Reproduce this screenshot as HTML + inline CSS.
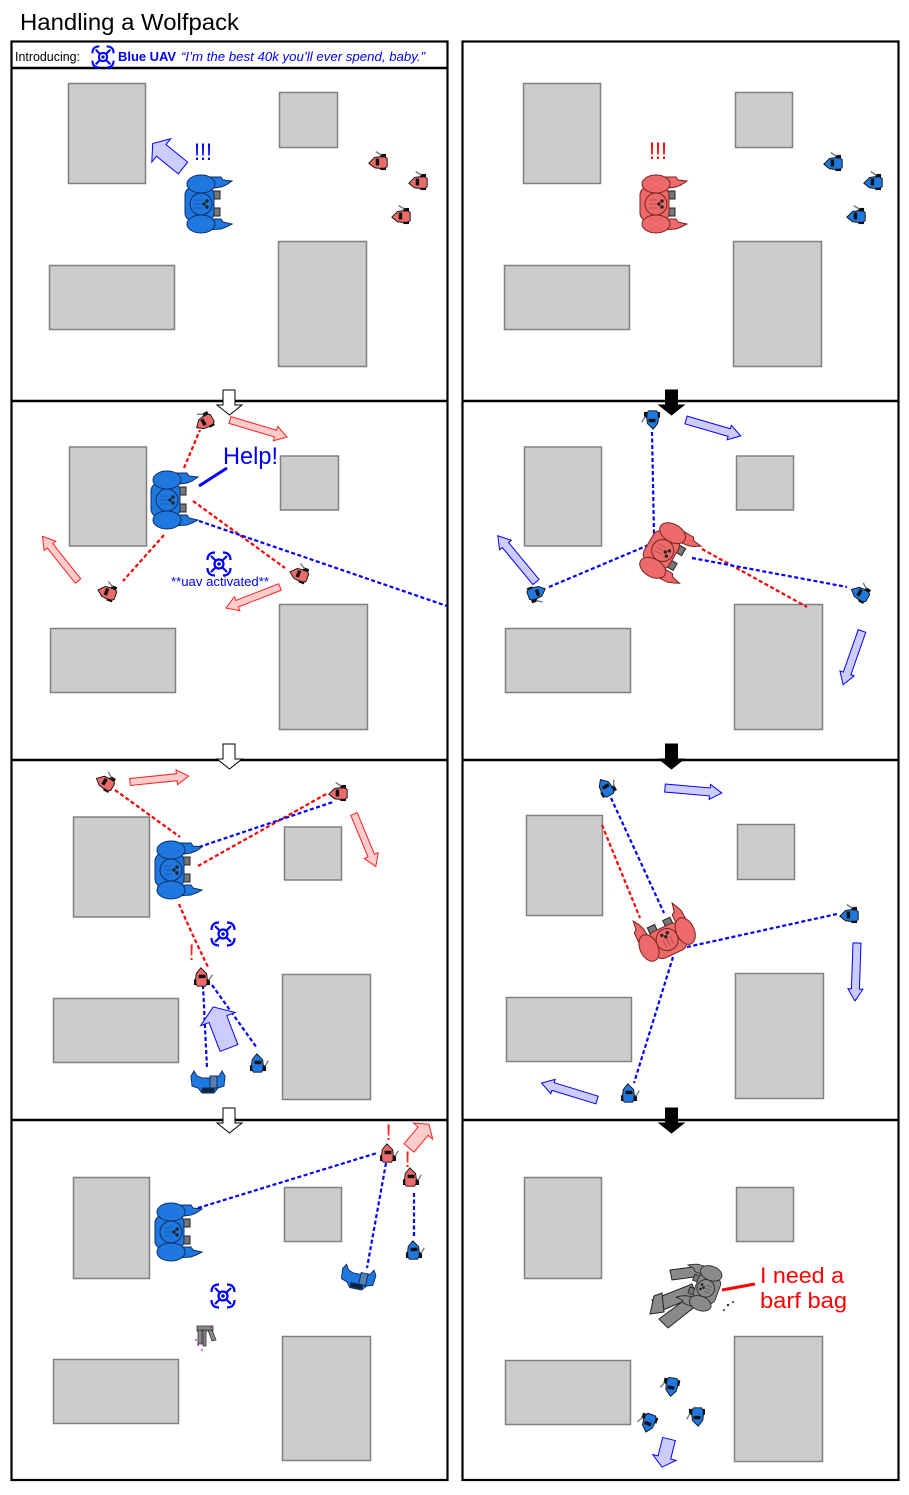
<!DOCTYPE html>
<html><head><meta charset="utf-8"><style>
html,body{margin:0;padding:0;background:#fff;}
svg{display:block;}
text{font-family:"Liberation Sans",Arial,sans-serif;}
</style></head><body>
<svg width="909" height="1495" viewBox="0 0 909 1495" xmlns="http://www.w3.org/2000/svg" xmlns:xlink="http://www.w3.org/1999/xlink">
<defs>
  <g id="uav" fill="none" stroke="#0000ff" stroke-width="2.2">
    <line x1="-8" y1="-8" x2="8" y2="8"/>
    <line x1="-8" y1="8" x2="8" y2="-8"/>
    <circle r="4.5" fill="#fff"/>
    <circle r="1.8" fill="#0000ff" stroke="none"/>
    <path d="M4,-11.5 Q11.5,-11.5 11.5,-4"/>
    <path d="M-4,-11.5 Q-11.5,-11.5 -11.5,-4"/>
    <path d="M4,11.5 Q11.5,11.5 11.5,4"/>
    <path d="M-4,11.5 Q-11.5,11.5 -11.5,4"/>
  </g>
  <g id="mech" stroke-width="1">
    <path d="M0,-27 L15,-27 L17,-24 L26,-23 L20,-19 L15,-17 L0,-15 Z"/>
    <path d="M0,15 L15,15 L17,18 L26,20 L20,23 L15,25 L0,26 Z"/>
    <rect x="5" y="-13" width="9" height="8" fill="#777" stroke="#222"/>
    <rect x="5" y="4" width="9" height="8" fill="#777" stroke="#222"/>
    <rect x="-21" y="-17" width="29" height="34" rx="8"/>
    <ellipse cx="-5" cy="-20" rx="14" ry="9"/>
    <ellipse cx="-5" cy="20" rx="14" ry="9"/>
    <circle cx="-5" cy="0" r="11"/>
    <path d="M-12,-4 L-4,-4 M-12,0 L-4,0 M-12,4 L-4,4" stroke-opacity="0.4" fill="none"/>
    <circle cx="1" cy="-3" r="1.7" fill="#222" stroke="none"/>
    <circle cx="1" cy="3" r="1.7" fill="#222" stroke="none"/>
    <circle cx="-2" cy="0" r="1.7" fill="#222" stroke="none"/>
  </g>
  <g id="unit" stroke="#111" stroke-width="0.8">
    <path d="M-8,1 L-3,-4 L5,-5 L8,-3 L8,4 L5,6 L-3,5 Z"/>
    <rect x="-2" y="-3" width="3" height="6" fill="#111" stroke="none"/>
    <rect x="2" y="-7" width="5" height="3" fill="#111" stroke="none"/>
    <rect x="2" y="5" width="5" height="2" fill="#111" stroke="none"/>
    <path d="M-2,-9 L3,-6" stroke="#777" fill="none" stroke-width="1.2"/>
  </g>
  <g id="unit2" stroke="#0d2f66" stroke-width="1">
    <path d="M-17,-6 L-14,-11 L-11,-6 L-6,-4 L6,-4 L11,-6 L14,-11 L17,-6 L16,4 L10,6 L6,11 L-6,11 L-10,6 L-16,4 Z"/>
    <rect x="2" y="-6" width="7" height="12" fill="#5a7fb0"/>
    <rect x="-6" y="6" width="12" height="4" fill="#123"/>
  </g>
</defs>

<!-- Title -->
<text x="20" y="30" font-size="23" textLength="219" lengthAdjust="spacingAndGlyphs">Handling a Wolfpack</text>

<!-- Frames -->
<g fill="#fff" stroke="#000" stroke-width="2.2">
  <rect x="11.5" y="41.5" width="436" height="1438.5"/>
  <rect x="462.5" y="41.5" width="436" height="1438.5"/>
</g>
<g stroke="#000" stroke-width="2.5">
  <line x1="11" y1="68" x2="448" y2="68"/>
  <line x1="11" y1="401" x2="448" y2="401"/>
  <line x1="11" y1="760" x2="448" y2="760"/>
  <line x1="11" y1="1120" x2="448" y2="1120"/>
  <line x1="462" y1="401" x2="899" y2="401"/>
  <line x1="462" y1="760" x2="899" y2="760"/>
  <line x1="462" y1="1120" x2="899" y2="1120"/>
</g>

<!-- Header -->
<text x="15" y="61" font-size="13" textLength="65" lengthAdjust="spacingAndGlyphs">Introducing:</text>
<use xlink:href="#uav" href="#uav" transform="translate(103,57) scale(0.92)"/>
<text x="118" y="61" font-size="13" font-weight="bold" fill="#0000ff" textLength="58" lengthAdjust="spacingAndGlyphs">Blue UAV</text>
<text x="181" y="61" font-size="13" font-style="italic" fill="#0000ff" textLength="244" lengthAdjust="spacingAndGlyphs">“I’m the best 40k you’ll ever spend, baby.”</text>

<!-- Buildings -->
<g fill="#cccccc" stroke="#808080" stroke-width="1.5">
  <rect x="68.5" y="83.5" width="77" height="100"/>
  <rect x="279.5" y="92.5" width="58" height="55"/>
  <rect x="49.5" y="265.5" width="125" height="64"/>
  <rect x="278.5" y="241.5" width="88" height="125"/>

  <rect x="69.5" y="447" width="77" height="99"/>
  <rect x="280.5" y="456" width="58" height="54"/>
  <rect x="50.5" y="628.5" width="125" height="64"/>
  <rect x="279.5" y="604.5" width="88" height="125"/>

  <rect x="73.5" y="817" width="76" height="100"/>
  <rect x="284.5" y="827" width="57" height="53"/>
  <rect x="53.5" y="998.5" width="125" height="64"/>
  <rect x="282.5" y="974.5" width="88" height="125"/>

  <rect x="73.5" y="1177.5" width="76" height="101"/>
  <rect x="284.5" y="1187.5" width="57" height="54"/>
  <rect x="53.5" y="1359.5" width="125" height="64"/>
  <rect x="282.5" y="1336.5" width="88" height="124"/>

  <rect x="523.5" y="83.5" width="77" height="100"/>
  <rect x="735.5" y="92.5" width="57" height="55"/>
  <rect x="504.5" y="265.5" width="125" height="64"/>
  <rect x="733.5" y="241.5" width="88" height="125"/>

  <rect x="524.5" y="447" width="77" height="99"/>
  <rect x="736.5" y="456" width="57" height="54"/>
  <rect x="505.5" y="628.5" width="125" height="64"/>
  <rect x="734.5" y="604.5" width="88" height="125"/>

  <rect x="526.5" y="815.5" width="76" height="100"/>
  <rect x="737.5" y="824.5" width="57" height="55"/>
  <rect x="506.5" y="997.5" width="125" height="64"/>
  <rect x="735.5" y="973.5" width="88" height="125"/>

  <rect x="524.5" y="1177.5" width="77" height="101"/>
  <rect x="736.5" y="1187.5" width="57" height="54"/>
  <rect x="505.5" y="1360.5" width="125" height="64"/>
  <rect x="734.5" y="1336.5" width="88" height="125"/>
</g>

<!-- Panel connector arrows -->
<g fill="#fff" stroke="#000" stroke-width="1">
  <polygon points="223,390 235,390 235,405 242,405 229.5,415 217,405 223,405"/>
  <polygon points="223,744 235,744 235,759 242,759 229.5,769 217,759 223,759"/>
  <polygon points="223,1108 235,1108 235,1123 242,1123 229.5,1133 217,1123 223,1123"/>
</g>
<g fill="#000" stroke="#000" stroke-width="1">
  <polygon points="665.5,390 677.5,390 677.5,405 684,405 671.5,415 659,405 665.5,405"/>
  <polygon points="665.5,744 677.5,744 677.5,759 684,759 671.5,769 659,759 665.5,759"/>
  <polygon points="665.5,1108 677.5,1108 677.5,1123 684,1123 671.5,1133 659,1123 665.5,1123"/>
</g>

<!-- Dotted lines -->
<g fill="none" stroke="#ff0000" stroke-width="2.2" stroke-dasharray="4 2.5">
  <line x1="184" y1="468" x2="200" y2="430"/>
  <line x1="164" y1="535" x2="123" y2="581"/>
  <line x1="193" y1="501" x2="285" y2="568"/>
  <line x1="702" y1="549" x2="807" y2="607"/>
  <line x1="115" y1="790" x2="180" y2="837"/>
  <line x1="198" y1="866" x2="328" y2="793"/>
  <path d="M179,904 Q190,930 208,967"/>
  <line x1="602" y1="825" x2="640" y2="918"/>
</g>
<g fill="none" stroke="#0000ff" stroke-width="2.2" stroke-dasharray="4 2.5">
  <line x1="199" y1="521" x2="447" y2="606"/>
  <line x1="652" y1="432" x2="654" y2="535"/>
  <line x1="549" y1="587" x2="651" y2="544"/>
  <line x1="692" y1="558" x2="847" y2="587"/>
  <line x1="199" y1="847" x2="333" y2="802"/>
  <line x1="203" y1="985" x2="207" y2="1068"/>
  <line x1="212" y1="985" x2="257" y2="1048"/>
  <line x1="611" y1="798" x2="664" y2="913"/>
  <line x1="687" y1="947" x2="837" y2="914"/>
  <line x1="673" y1="957" x2="634" y2="1083"/>
  <line x1="198" y1="1208" x2="377" y2="1153"/>
  <line x1="386" y1="1163" x2="367" y2="1268"/>
  <line x1="414" y1="1193" x2="414" y2="1236"/>
</g>
<line x1="199" y1="486" x2="227" y2="468" stroke="#0000ff" stroke-width="3"/>
<line x1="722" y1="1290" x2="755" y2="1284" stroke="#ff0000" stroke-width="3"/>

<!-- Pink arrows -->
<g fill="#ffcccc" stroke="#ff2020" stroke-width="1">
  <polygon transform="translate(230,420) rotate(16.6)" points="0,-3.5 47.5,-3.5 47.5,-7.5 59.5,0 47.5,7.5 47.5,3.5 0,3.5"/>
  <polygon transform="translate(78,581) rotate(-128.5)" points="0,-3.5 45,-3.5 45,-7.5 57,0 45,7.5 45,3.5 0,3.5"/>
  <polygon transform="translate(280,587) rotate(158.7)" points="0,-3.5 46,-3.5 46,-7.5 58,0 46,7.5 46,3.5 0,3.5"/>
  <polygon transform="translate(130,782) rotate(-5.8)" points="0,-3.5 47,-3.5 47,-7.5 59,0 47,7.5 47,3.5 0,3.5"/>
  <polygon transform="translate(354,814) rotate(67.5)" points="0,-3.5 45,-3.5 45,-7.5 57,0 45,7.5 45,3.5 0,3.5"/>
  <polygon transform="translate(409,1148) rotate(-50)" points="0,-6.5 22,-6.5 22,-12.5 31,0 22,12.5 22,6.5 0,6.5"/>
</g>

<!-- Blue arrows -->
<g fill="#ccccff" stroke="#0000ff" stroke-width="1">
  <polygon transform="translate(183,168) rotate(-141)" points="0,-7.5 28,-7.5 28,-15 39,0 28,15 28,7.5 0,7.5"/>
  <polygon transform="translate(229,1048) rotate(-111)" points="0,-9.5 31,-9.5 31,-18.5 44,0 31,18.5 31,9.5 0,9.5"/>
  <polygon transform="translate(686,420) rotate(16.2)" points="0,-4 45,-4 45,-7.5 57,0 45,7.5 45,4 0,4"/>
  <polygon transform="translate(536,582) rotate(-129.6)" points="0,-4 48,-4 48,-7.5 60,0 48,7.5 48,4 0,4"/>
  <polygon transform="translate(862,631) rotate(109.4)" points="0,-4 45,-4 45,-7.5 57,0 45,7.5 45,4 0,4"/>
  <polygon transform="translate(665,788) rotate(5)" points="0,-4 45,-4 45,-7.5 57,0 45,7.5 45,4 0,4"/>
  <polygon transform="translate(857,943) rotate(92)" points="0,-4 46,-4 46,-7.5 58,0 46,7.5 46,4 0,4"/>
  <polygon transform="translate(597,1100) rotate(-163)" points="0,-4 46,-4 46,-7.5 58,0 46,7.5 46,4 0,4"/>
  <polygon transform="translate(669,1439) rotate(104)" points="0,-6.5 19,-6.5 19,-12 29,0 19,12 19,6.5 0,6.5"/>
</g>

<!-- UAVs -->
<use xlink:href="#uav" href="#uav" transform="translate(219,564)"/>
<use xlink:href="#uav" href="#uav" transform="translate(223,934)"/>
<use xlink:href="#uav" href="#uav" transform="translate(223,1296)"/>

<!-- Mechs -->
<use xlink:href="#mech" href="#mech" transform="translate(206,204)" fill="#1f78e0" stroke="#0d2f66"/>
<use xlink:href="#mech" href="#mech" transform="translate(661,204)" fill="#ec6a6a" stroke="#7a2222"/>
<use xlink:href="#mech" href="#mech" transform="translate(172,500)" fill="#1f78e0" stroke="#0d2f66"/>
<use xlink:href="#mech" href="#mech" transform="translate(667,553) rotate(30)" fill="#ec6a6a" stroke="#7a2222"/>
<use xlink:href="#mech" href="#mech" transform="translate(176,870)" fill="#1f78e0" stroke="#0d2f66"/>
<use xlink:href="#mech" href="#mech" transform="translate(665,935) rotate(-115)" fill="#ec6a6a" stroke="#7a2222"/>
<use xlink:href="#mech" href="#mech" transform="translate(176,1232)" fill="#1f78e0" stroke="#0d2f66"/>

<!-- Grey wreck (right panel 4) -->
<g fill="#8a8a8a" stroke="#222" stroke-width="1">
  <polygon points="692,1284 697,1296 658,1312 652,1300"/>
  <polygon points="690,1296 697,1305 668,1328 659,1319"/>
  <polygon points="654,1296 662,1293 664,1312 650,1314"/>
  <polygon points="670,1270 700,1266 702,1276 672,1280"/>
</g>
<use xlink:href="#mech" href="#mech" transform="translate(702,1287) rotate(200) scale(0.8)" fill="#8a8a8a" stroke="#222"/>
<g fill="#333"><circle cx="728" cy="1305" r="1.3"/><circle cx="733" cy="1302" r="1"/><circle cx="724" cy="1310" r="1"/></g>

<!-- Small wreck (left panel 4) -->
<g fill="#888" stroke="#333" stroke-width="0.8">
  <rect x="197" y="1326" width="16" height="5"/>
  <rect x="198" y="1330" width="4" height="14"/>
  <rect x="203" y="1330" width="3" height="16"/>
  <polygon points="208,1330 212,1330 216,1340 212,1341"/>
</g>
<g fill="#a020a0"><circle cx="198" cy="1345" r="0.9"/><circle cx="202" cy="1350" r="0.9"/><circle cx="211" cy="1327" r="0.9"/><circle cx="196" cy="1340" r="0.9"/></g>

<!-- Small units -->
<g fill="#ec6a6a">
  <use xlink:href="#unit" href="#unit" transform="translate(378,162) scale(1.15)"/>
  <use xlink:href="#unit" href="#unit" transform="translate(418,182) scale(1.15)"/>
  <use xlink:href="#unit" href="#unit" transform="translate(401,216) scale(1.15)"/>
  <use xlink:href="#unit" href="#unit" transform="translate(204,422) rotate(-30) scale(1.15)"/>
  <use xlink:href="#unit" href="#unit" transform="translate(107,592) rotate(20) scale(1.15)"/>
  <use xlink:href="#unit" href="#unit" transform="translate(299,574) rotate(20) scale(1.15)"/>
  <use xlink:href="#unit" href="#unit" transform="translate(105,782) rotate(30) scale(1.15)"/>
  <use xlink:href="#unit" href="#unit" transform="translate(338,793) scale(1.15)"/>
  <use xlink:href="#unit" href="#unit" transform="translate(202,977) rotate(90) scale(1.15)"/>
  <use xlink:href="#unit" href="#unit" transform="translate(388,1153) rotate(90) scale(1.15)"/>
  <use xlink:href="#unit" href="#unit" transform="translate(411,1177) rotate(90) scale(1.15)"/>
</g>
<g fill="#1f78e0">
  <use xlink:href="#unit" href="#unit" transform="translate(833,163) scale(1.15)"/>
  <use xlink:href="#unit" href="#unit" transform="translate(873,182) scale(1.15)"/>
  <use xlink:href="#unit" href="#unit" transform="translate(856,216) scale(1.15)"/>
  <use xlink:href="#unit" href="#unit" transform="translate(652,420) rotate(-90) scale(1.15)"/>
  <use xlink:href="#unit" href="#unit" transform="translate(537,593) rotate(160) scale(1.15)"/>
  <use xlink:href="#unit" href="#unit" transform="translate(860,593) rotate(30) scale(1.15)"/>
  <use xlink:href="#unit" href="#unit" transform="translate(258,1063) rotate(90) scale(1.15)"/>
  <use xlink:href="#unit" href="#unit" transform="translate(606,787) rotate(60) scale(1.15)"/>
  <use xlink:href="#unit" href="#unit" transform="translate(849,915) scale(1.15)"/>
  <use xlink:href="#unit" href="#unit" transform="translate(629,1093) rotate(90) scale(1.15)"/>
  <use xlink:href="#unit" href="#unit" transform="translate(414,1250) rotate(90) scale(1.15)"/>
  <use xlink:href="#unit" href="#unit" transform="translate(671,1387) rotate(-80) scale(1.15)"/>
  <use xlink:href="#unit" href="#unit" transform="translate(648,1423) rotate(-70) scale(1.15)"/>
  <use xlink:href="#unit" href="#unit" transform="translate(697,1417) rotate(-90) scale(1.15)"/>
  <use xlink:href="#unit2" href="#unit2" transform="translate(208,1082)"/>
  <use xlink:href="#unit2" href="#unit2" transform="translate(358,1278) rotate(12)"/>
</g>

<!-- Labels -->
<text x="194" y="160" font-size="24" fill="#0000ff" textLength="18" lengthAdjust="spacingAndGlyphs">!!!</text>
<text x="649" y="159" font-size="24" fill="#ff0000" textLength="18" lengthAdjust="spacingAndGlyphs">!!!</text>
<text x="223" y="464" font-size="24.5" fill="#0000ff" textLength="55" lengthAdjust="spacingAndGlyphs">Help!</text>
<text x="171" y="586" font-size="12.5" fill="#0000ff" textLength="98" lengthAdjust="spacingAndGlyphs">**uav activated**</text>
<text x="188.5" y="960" font-size="22" fill="#ff2020">!</text>
<text x="385.5" y="1140" font-size="22" fill="#ff2020">!</text>
<text x="404.5" y="1167" font-size="22" fill="#ff2020">!</text>
<text x="760" y="1283" font-size="22.5" fill="#ff0000" textLength="84" lengthAdjust="spacingAndGlyphs">I need a</text>
<text x="760" y="1308" font-size="22.5" fill="#ff0000" textLength="87" lengthAdjust="spacingAndGlyphs">barf bag</text>
</svg>
</body></html>
